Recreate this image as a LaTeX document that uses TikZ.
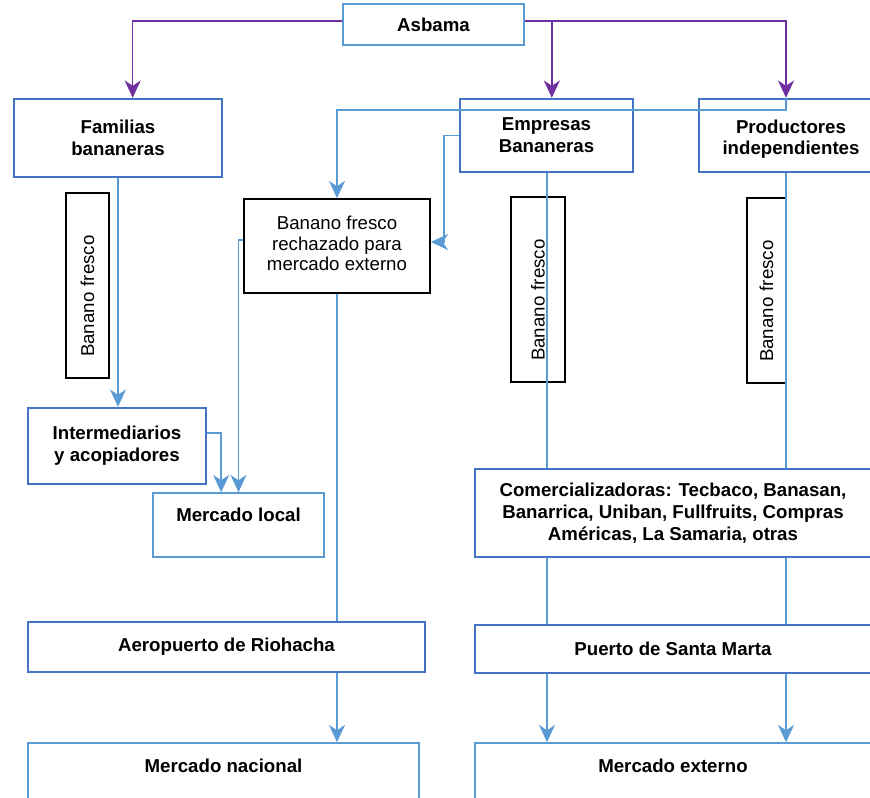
\documentclass[tikz,border=0pt]{standalone}
\usepackage{fontspec}
\setmainfont{Liberation Sans}
\usetikzlibrary{arrows.meta}
\definecolor{boxblue}{HTML}{4472C4}
\definecolor{flowblue}{HTML}{5B9BD5}
\definecolor{asbamapurple}{HTML}{7030A0}

\begin{document}
\begin{tikzpicture}[x=0.75pt,y=-0.75pt,
  box/.style={draw=boxblue,line width=1.75pt,align=center,inner sep=0pt,
    font=\bfseries\fontsize{14}{16.3}\selectfont},
  lightbox/.style={box,draw=flowblue,line width=1.1pt},
  market/.style={lightbox,text height=10pt,text depth=#1},
  plainbox/.style={draw=black,line width=1.1pt,align=center,inner sep=0pt,
    font=\fontsize{14}{15.6}\selectfont},
  flowlabel/.style={plainbox,rotate=90,align=left,text width=107pt,
    inner xsep=15.75pt,minimum height=#1},
  flow/.style={draw=flowblue,line width=1.2pt},
  flowarrow/.style={flow,-{Stealth[length=13pt,width=12pt,inset=4pt]}},
  link/.style={draw=asbamapurple,line width=1.2pt,-{Stealth[length=13pt,width=12pt,inset=4pt]}}]
\useasboundingbox (0,0) rectangle (870,798);
\clip (0,0) rectangle (870,798);

\node[lightbox,minimum width=135.75pt,minimum height=30.75pt] (asbama) at (433.5,24.5) {Asbama};
\node[box,minimum width=156pt,minimum height=58.5pt] (familias) at (118,138) {Familias\\bananeras};
\node[box,minimum width=129.75pt,minimum height=54.75pt] (empresas) at (546.5,135.5) {Empresas\\Bananeras};
\node[box,minimum width=138pt,minimum height=54.75pt,text height=30pt,text depth=1pt] (productores) at (791,135.5) {Productores\\independientes};
\node[plainbox,minimum width=139.5pt,minimum height=70.5pt,text depth=4pt] (rechazado) at (337,246) {Banano fresco\\rechazado para\\mercado externo};
\node[box,minimum width=133.5pt,minimum height=57pt] (intermediarios) at (117,446) {Intermediarios\\y acopiadores};
\node[market=15pt,minimum width=128.25pt,minimum height=48pt] (local) at (238.5,525) {Mercado local};
\node[box,minimum width=297.75pt,minimum height=37.5pt] (aeropuerto) at (226.5,647) {Aeropuerto de Riohacha};
\node[market=12pt,minimum width=293.25pt,minimum height=46.5pt] (nacional) at (223.5,774) {Mercado nacional};
\node[box,minimum width=297pt,minimum height=66pt] (comercial) at (673,513) {Comercializadoras: Tecbaco, Banasan,\\Banarrica, Uniban, Fullfruits, Compras\\Américas, La Samaria, otras};
\node[box,minimum width=297pt,minimum height=36pt] (puerto) at (673,649) {Puerto de Santa Marta};
\node[market=12pt,minimum width=297pt,minimum height=46.5pt] (externo) at (673,774) {Mercado externo};

\node[flowlabel=32.25pt] (lab1) at (87.5,285.5) {Banano fresco};
\node[flowlabel=40.5pt] (lab2) at (538,289.5) {Banano fresco};
\node[flowlabel=29.25pt] (lab3) at (766.5,290.5) {Banano fresco};

\coordinate (ecol) at (547,0);
\coordinate (pcol) at (786,0);

\draw[link] ([yshift=2.6pt]asbama.west) -| ([xshift=11pt]familias.north);
\draw[link] ([yshift=2.6pt]asbama.east) -| ([xshift=4pt]empresas.north);
\draw[link] ([yshift=2.6pt]asbama.east) -| (productores.north -| pcol);

\draw[flowarrow] (familias.south) -- (intermediarios.north -| familias.south);
\draw[flowarrow] (productores.north -| pcol) -- ++(0,12) -| (rechazado.north);
\draw[flowarrow] (empresas.west) -- ++(-15,0) |- ([yshift=3pt]rechazado.east);
\draw[flowarrow] ([yshift=4.5pt]rechazado.west) -| (local.north);
\draw[flowarrow] ([yshift=9.75pt]intermediarios.east) -| ([xshift=-13pt]local.north);
\draw[flow] (rechazado.south) -- (rechazado.south |- aeropuerto.north);
\draw[flowarrow] (rechazado.south |- aeropuerto.south) -- (rechazado.south |- nacional.north);

\foreach \src/\col in {empresas/ecol,productores/pcol}{
  \draw[flow] (\src.south -| \col) -- (\col |- comercial.north);
  \draw[flow] (\col |- comercial.south) -- (\col |- puerto.north);
  \draw[flowarrow] (\col |- puerto.south) -- (\col |- externo.north);
}
\end{tikzpicture}
\end{document}
